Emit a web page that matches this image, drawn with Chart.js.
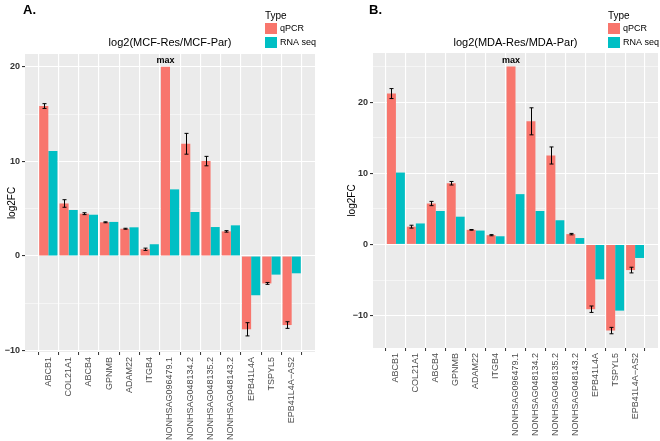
<!DOCTYPE html>
<html>
<head>
<meta charset="utf-8">
<script src="https://cdn.jsdelivr.net/npm/chart.js@4.4.1/dist/chart.umd.min.js"></script>
<style>
body { margin: 0; background: #fff; }
#wrap { position: relative; width: 660px; height: 441px; }
.panel { position: absolute; top: 0; width: 330px; height: 441px; }
</style>
</head>
<body>
<div id="wrap">
  <div class="panel" style="left:0"><canvas id="chartA"></canvas></div>
  <div class="panel" style="left:330px"><canvas id="chartB"></canvas></div>
</div>
<script>
var genes = ['ABCB1', 'COL21A1', 'ABCB4', 'GPNMB', 'ADAM22', 'ITGB4', 'NONHSAG096479.1',
  'NONHSAG048134.2', 'NONHSAG048135.2', 'NONHSAG048143.2', 'EPB41L4A', 'TSPYL5', 'EPB41L4A\u2212AS2'];

// panel A: log2(MCF-Res/MCF-Par)
var qpcrA    = [15.85, 5.55, 4.47, 3.56, 2.88, 0.71, 20, 11.86, 10.03, 2.6, -7.75, -2.9, -7.3];
var qpcrErrA = [0.25, 0.4, 0.1, 0.05, 0.05, 0.12, 0, 1.1, 0.5, 0.08, 0.7, 0.1, 0.35];
var rnaA     = [11.1, 4.86, 4.36, 3.6, 3.03, 1.24, 7.04, 4.65, 3.06, 3.24, -4.15, -1.97, -1.83];
var yTicksA  = [-10, -5, 0, 5, 10, 15, 20];

// panel B: log2(MDA-Res/MDA-Par)
var qpcrB    = [21.2, 2.5, 5.75, 8.6, 2.05, 1.3, 25, 17.3, 12.5, 1.45, -9.1, -12.1, -3.6];
var qpcrErrB = [0.7, 0.2, 0.3, 0.25, 0.05, 0.08, 0, 1.9, 1.2, 0.1, 0.45, 0.45, 0.4];
var rnaB     = [10.1, 2.95, 4.7, 3.9, 1.95, 1.15, 7.07, 4.7, 3.4, 0.9, -4.9, -9.3, -1.9];
var yTicksB  = [-10, -5, 0, 5, 10, 15, 20, 25];

var maxIndex = 6;
var FONT = '"Liberation Sans", Arial, sans-serif';

function makePanel(id, o) {
  var deco = {
    id: 'deco',
    beforeDraw: function(chart) {
      var a = chart.chartArea, ctx = chart.ctx;
      ctx.save();
      ctx.fillStyle = '#EBEBEB';
      ctx.fillRect(a.left, a.top, a.right - a.left, a.bottom - a.top);
      ctx.restore();
    },
    afterDatasetsDraw: function(chart) {
      var ctx = chart.ctx, y = chart.scales.y;
      var meta = chart.getDatasetMeta(0);
      ctx.save();
      // error bars on qPCR
      ctx.strokeStyle = '#000';
      ctx.lineWidth = 1;
      o.err.forEach(function(e, i) {
        if (!e) return;
        var x = Math.round(meta.data[i].x) + 0.5;
        var y1 = y.getPixelForValue(o.qpcr[i] - e), y2 = y.getPixelForValue(o.qpcr[i] + e);
        ctx.beginPath();
        ctx.moveTo(x, y1); ctx.lineTo(x, y2);
        ctx.moveTo(x - 2, y1); ctx.lineTo(x + 2, y1);
        ctx.moveTo(x - 2, y2); ctx.lineTo(x + 2, y2);
        ctx.stroke();
      });
      // "max" label
      var b = meta.data[maxIndex];
      ctx.fillStyle = '#000';
      ctx.font = 'bold 9px ' + FONT;
      ctx.textAlign = 'center';
      ctx.textBaseline = 'alphabetic';
      ctx.fillText('max', b.x, b.y - 4);
      ctx.restore();
    },
    afterDraw: function(chart) {
      var ctx = chart.ctx, a = chart.chartArea;
      ctx.save();
      ctx.textBaseline = 'middle';
      ctx.fillStyle = '#000';
      ctx.font = 'bold 13px ' + FONT;
      ctx.textAlign = 'left';
      ctx.fillText(o.letter, o.letterX, 10);
      ctx.font = '11px ' + FONT;
      ctx.textAlign = 'center';
      ctx.fillText(o.title, (a.left + a.right) / 2, 43);
      // legend
      ctx.textAlign = 'left';
      ctx.font = '10px ' + FONT;
      ctx.fillText('Type', o.legX, 16);
      ctx.fillStyle = '#F8766D';
      ctx.fillRect(o.legX, 23, 12, 11);
      ctx.fillStyle = '#00BFC4';
      ctx.fillRect(o.legX, 37, 12, 11);
      ctx.fillStyle = '#000';
      ctx.font = '9px ' + FONT;
      ctx.fillText('qPCR', o.legX + 15, 29);
      ctx.fillText('RNA seq', o.legX + 15, 43);
      ctx.restore();
    }
  };

  return new Chart(document.getElementById(id), {
    type: 'bar',
    data: {
      datasets: [{
        label: 'qPCR',
        data: o.qpcr.map(function(v, i) { return { x: i, y: v }; }),
        backgroundColor: '#F8766D',
        borderWidth: 0,
        categoryPercentage: 0.9,
        barPercentage: 1.0
      }, {
        label: 'RNA seq',
        data: o.rna.map(function(v, i) { return { x: i, y: v }; }),
        backgroundColor: '#00BFC4',
        borderWidth: 0,
        categoryPercentage: 0.9,
        barPercentage: 1.0
      }]
    },
    options: {
      responsive: true,
      maintainAspectRatio: false,
      animation: false,
      layout: { padding: { top: o.top, right: o.right, left: 0, bottom: 0 } },
      plugins: { legend: { display: false }, tooltip: { enabled: false } },
      scales: {
        x: {
          type: 'linear',
          min: -0.6,
          max: genes.length - 0.4,
          afterBuildTicks: function(s) { s.ticks = genes.map(function(g, i) { return { value: i }; }); },
          afterFit: function(s) { s.height = o.xH; },
          border: { display: false },
          grid: { color: '#fff', lineWidth: 1.1, tickLength: 3, tickColor: '#333', tickWidth: 1 },
          ticks: {
            autoSkip: false, minRotation: 90, maxRotation: 90, padding: 2,
            color: '#4D4D4D', font: { family: FONT, size: 9 },
            callback: function(v) { return genes[v]; }
          }
        },
        y: {
          min: o.yMin,
          max: o.yMax,
          afterBuildTicks: function(s) { s.ticks = o.yTicks.map(function(v) { return { value: v }; }); },
          afterFit: function(s) { s.width = o.yW; },
          border: { display: false },
          grid: {
            color: '#fff',
            lineWidth: function(c) { return c.tick && c.tick.value % 10 === 0 ? 1.1 : 0.5; },
            tickLength: 3,
            tickColor: function(c) { return c.tick && c.tick.value % 10 === 0 ? '#333' : 'rgba(0,0,0,0)'; }
          },
          ticks: {
            padding: 2, color: '#333', font: { family: FONT, size: 9, weight: 'bold' },
            callback: function(v) { return v % 10 === 0 ? String(v).replace('-', '\u2212') : ''; }
          },
          title: { display: true, text: 'log2FC', color: '#000', font: { family: FONT, size: 10 }, padding: { top: o.titlePad, bottom: 0 } }
        }
      }
    },
    plugins: [deco]
  });
}

makePanel('chartA', {
  qpcr: qpcrA, err: qpcrErrA, rna: rnaA, yTicks: yTicksA,
  yMin: -10.15, yMax: 21.35, top: 54, right: 15, yW: 25, xH: 89, titlePad: 6,
  letter: 'A.', letterX: 23, legX: 265, title: 'log2(MCF-Res/MCF-Par)'
});
makePanel('chartB', {
  qpcr: qpcrB, err: qpcrErrB, rna: rnaB, yTicks: yTicksB,
  yMin: -14.55, yMax: 26.9, top: 53, right: 2, yW: 43, xH: 93, titlePad: 16,
  letter: 'B.', letterX: 39, legX: 278, title: 'log2(MDA-Res/MDA-Par)'
});
</script>
</body>
</html>
